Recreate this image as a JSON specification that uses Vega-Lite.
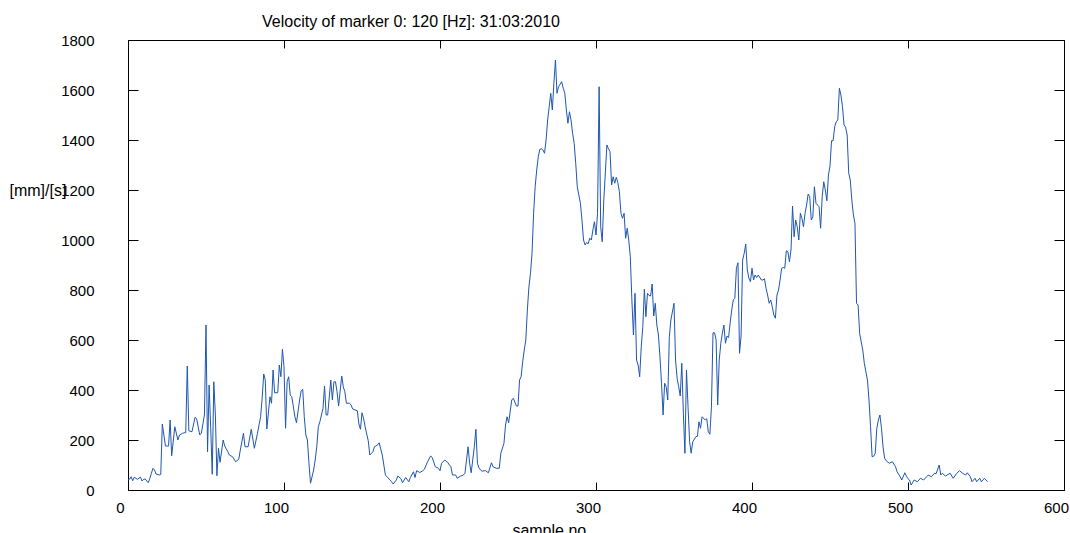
{
 "$schema": "https://vega.github.io/schema/vega-lite/v6.json",
 "width": 936,
 "height": 450,
 "autosize": {"type": "none"},
 "padding": {"left": 128, "top": 40, "right": 6, "bottom": 43},
 "background": "white",
 "config": {
  "view": {"stroke": null},
  "font": "Liberation Sans",
  "axis": {
   "grid": false,
   "domainColor": "black",
   "labelColor": "black",
   "titleColor": "black",
   "labelFont": "Liberation Sans",
   "titleFont": "Liberation Sans",
   "labelFontSize": 15,
   "titleFontSize": 16,
   "titleFontWeight": "normal",
   "domainWidth": 1,
   "labelFlush": false,
   "labelOverlap": false,
   "format": "d"
  }
 },
 "title": {
  "text": "Velocity of marker 0: 120 [Hz]: 31:03:2010",
  "anchor": "start",
  "frame": "group",
  "dx": 134,
  "offset": -10,
  "baseline": "alphabetic",
  "fontSize": 16,
  "fontWeight": "normal",
  "font": "Liberation Sans",
  "color": "black"
 },
 "data": {"values": [
  {"s":0,"v":40},{"s":1,"v":43},{"s":2,"v":53},{"s":3,"v":37},{"s":4,"v":51},{"s":6,"v":43},{"s":8,"v":51},{"s":9,"v":36},{"s":10,"v":43},{"s":11,"v":44},{"s":13,"v":29},{"s":14,"v":47},{"s":15,"v":67},{"s":16,"v":87},{"s":17,"v":80},{"s":18,"v":64},{"s":20,"v":60},{"s":21,"v":62},
  {"s":22,"v":264},{"s":24,"v":176},{"s":26,"v":176},{"s":27,"v":280},{"s":28,"v":137},{"s":30,"v":253},{"s":32,"v":200},{"s":33,"v":220},{"s":35,"v":227},{"s":37,"v":230},{"s":38,"v":496},{"s":39,"v":237},{"s":41,"v":233},{"s":43,"v":291},{"s":44,"v":285},{"s":46,"v":220},{"s":47,"v":227},{"s":49,"v":300},{"s":50,"v":660},{"s":51,"v":153},{"s":52,"v":420},{"s":53,"v":250},{"s":54,"v":63},{"s":55,"v":433},{"s":56,"v":300},{"s":57,"v":57},{"s":58,"v":167},{"s":59,"v":111},{"s":61,"v":200},{"s":62,"v":176},{"s":64,"v":153},{"s":65,"v":140},{"s":67,"v":133},{"s":69,"v":113},{"s":71,"v":123},{"s":72,"v":160},{"s":74,"v":227},{"s":75,"v":173},{"s":77,"v":173},{"s":79,"v":243},{"s":81,"v":167},{"s":83,"v":227},{"s":85,"v":293},{"s":86,"v":367},{"s":87,"v":464},{"s":88,"v":440},{"s":89,"v":244},{"s":91,"v":373},{"s":92,"v":347},{"s":93,"v":480},{"s":94,"v":389},{"s":96,"v":389},{"s":97,"v":500},{"s":98,"v":453},{"s":99,"v":563},{"s":100,"v":493},{"s":101,"v":247},{"s":102,"v":433},{"s":103,"v":453},{"s":104,"v":380},
  {"s":105,"v":373},{"s":107,"v":293},{"s":108,"v":269},{"s":110,"v":360},{"s":111,"v":397},{"s":112,"v":403},{"s":113,"v":293},{"s":114,"v":220},{"s":115,"v":200},{"s":116,"v":107},{"s":117,"v":27},{"s":119,"v":80},{"s":120,"v":120},{"s":121,"v":173},{"s":122,"v":253},{"s":123,"v":273},{"s":125,"v":327},{"s":126,"v":416},{"s":127,"v":300},{"s":128,"v":300},{"s":130,"v":440},{"s":131,"v":360},{"s":132,"v":433},{"s":133,"v":433},{"s":134,"v":393},{"s":135,"v":336},{"s":137,"v":456},{"s":138,"v":413},{"s":139,"v":393},{"s":140,"v":347},{"s":142,"v":347},{"s":143,"v":340},{"s":144,"v":324},{"s":147,"v":317},{"s":148,"v":264},{"s":149,"v":243},{"s":150,"v":309},{"s":151,"v":287},{"s":152,"v":253},{"s":154,"v":197},{"s":155,"v":140},{"s":157,"v":153},{"s":158,"v":173},{"s":160,"v":180},{"s":161,"v":189},{"s":163,"v":140},{"s":164,"v":100},{"s":165,"v":60},{"s":166,"v":53},{"s":168,"v":40},{"s":169,"v":33},{"s":170,"v":24},{"s":172,"v":40},{"s":173,"v":56},{"s":175,"v":45},{"s":176,"v":29},{"s":178,"v":50},{"s":180,"v":33},{"s":181,"v":50},{"s":183,"v":73},{"s":184,"v":50},{"s":185,"v":77},{"s":187,"v":70},{"s":189,"v":77},{"s":190,"v":83},{"s":192,"v":113},{"s":194,"v":136},{"s":195,"v":130},{"s":197,"v":93},{"s":199,"v":87},{"s":200,"v":77},
  {"s":201,"v":107},{"s":203,"v":120},{"s":205,"v":110},{"s":206,"v":100},{"s":207,"v":93},{"s":208,"v":60},{"s":210,"v":60},{"s":211,"v":47},{"s":213,"v":55},{"s":215,"v":60},{"s":216,"v":67},{"s":218,"v":173},{"s":219,"v":107},{"s":220,"v":69},{"s":222,"v":173},{"s":223,"v":243},{"s":224,"v":107},{"s":225,"v":87},{"s":227,"v":75},{"s":229,"v":78},{"s":231,"v":69},{"s":233,"v":109},{"s":234,"v":93},{"s":236,"v":87},{"s":238,"v":87},{"s":239,"v":147},{"s":241,"v":187},{"s":242,"v":260},{"s":243,"v":293},{"s":244,"v":269},{"s":246,"v":360},{"s":247,"v":367},{"s":249,"v":336},{"s":250,"v":336},{"s":251,"v":440},{"s":252,"v":453},{"s":253,"v":513},{"s":254,"v":560},{"s":255,"v":600},{"s":256,"v":720},{"s":257,"v":813},{"s":258,"v":867},{"s":259,"v":947},{"s":260,"v":1107},{"s":261,"v":1213},{"s":262,"v":1280},{"s":263,"v":1333},{"s":264,"v":1363},{"s":265,"v":1365},{"s":266,"v":1360},{"s":267,"v":1347},{"s":268,"v":1400},{"s":269,"v":1480},{"s":270,"v":1533},{"s":271,"v":1587},{"s":272,"v":1520},{"s":273,"v":1627},{"s":274,"v":1720},{"s":275,"v":1587},{"s":276,"v":1613},{"s":278,"v":1633},{"s":279,"v":1607},{"s":280,"v":1587},{"s":281,"v":1520},{"s":282,"v":1467},{"s":283,"v":1513},{"s":284,"v":1480},{"s":285,"v":1427},{"s":286,"v":1387},{"s":287,"v":1307},{"s":288,"v":1213},{"s":290,"v":1147},{"s":291,"v":1080},{"s":292,"v":1000},{"s":293,"v":980},{"s":294,"v":990},{"s":295,"v":985},{"s":296,"v":1007},{"s":297,"v":1000},{"s":298,"v":1040},{"s":299,"v":1073},{"s":300,"v":1020},{"s":301,"v":1107},{"s":302,"v":1613},{"s":303,"v":1053},{"s":304,"v":993},{"s":305,"v":1160},{"s":307,"v":1380},{"s":308,"v":1365},{"s":309,"v":1353},{"s":310,"v":1220},{"s":311,"v":1253},{"s":312,"v":1227},{"s":313,"v":1251},{"s":314,"v":1230},{"s":315,"v":1193},{"s":316,"v":1107},{"s":317,"v":1087},{"s":318,"v":1107},{"s":319,"v":1007},{"s":320,"v":1047},{"s":321,"v":1000},{"s":322,"v":933},{"s":323,"v":760},{"s":324,"v":620},{"s":325,"v":787},{"s":326,"v":520},{"s":327,"v":500},{"s":328,"v":453},{"s":329,"v":573},{"s":330,"v":653},{"s":331,"v":803},{"s":332,"v":693},{"s":333,"v":787},{"s":334,"v":778},{"s":335,"v":776},{"s":336,"v":824},{"s":337,"v":696},{"s":338,"v":747},{"s":339,"v":660},{"s":340,"v":620},{"s":341,"v":533},{"s":342,"v":427},{"s":343,"v":300},{"s":344,"v":427},{"s":345,"v":413},{"s":346,"v":360},{"s":347,"v":613},{"s":348,"v":680},{"s":350,"v":747},{"s":351,"v":520},{"s":352,"v":447},{"s":353,"v":413},{"s":354,"v":376},{"s":355,"v":507},{"s":356,"v":307},{"s":357,"v":147},{"s":358,"v":480},{"s":359,"v":333},{"s":360,"v":193},{"s":361,"v":147},{"s":362,"v":193},{"s":364,"v":213},{"s":365,"v":215},{"s":366,"v":273},{"s":367,"v":247},{"s":368,"v":293},{"s":370,"v":280},{"s":371,"v":285},{"s":372,"v":233},{"s":373,"v":223},{"s":374,"v":333},{"s":375,"v":629},{"s":376,"v":629},{"s":377,"v":600},{"s":378,"v":340},{"s":379,"v":520},{"s":380,"v":587},{"s":381,"v":627},{"s":382,"v":660},{"s":383,"v":587},{"s":384,"v":616},{"s":385,"v":610},{"s":386,"v":669},{"s":387,"v":720},{"s":388,"v":760},{"s":389,"v":767},{"s":390,"v":887},{"s":391,"v":909},{"s":392,"v":547},{"s":393,"v":616},{"s":394,"v":920},{"s":395,"v":947},{"s":396,"v":984},{"s":397,"v":880},{"s":398,"v":847},{"s":399,"v":833},{"s":400,"v":887},{"s":401,"v":840},{"s":402,"v":860},{"s":403,"v":850},{"s":404,"v":860},{"s":406,"v":840},{"s":407,"v":840},{"s":408,"v":845},{"s":409,"v":807},{"s":410,"v":780},{"s":411,"v":747},{"s":412,"v":760},{"s":413,"v":733},{"s":414,"v":700},{"s":415,"v":687},{"s":416,"v":780},{"s":417,"v":800},{"s":418,"v":840},{"s":419,"v":887},{"s":420,"v":890},{"s":421,"v":887},{"s":422,"v":957},{"s":423,"v":953},{"s":424,"v":913},{"s":425,"v":960},{"s":426,"v":1136},{"s":427,"v":1013},{"s":428,"v":1080},{"s":429,"v":1053},{"s":430,"v":1000},{"s":431,"v":1107},{"s":432,"v":1087},{"s":433,"v":1053},{"s":434,"v":1107},{"s":435,"v":1140},{"s":436,"v":1184},{"s":437,"v":1173},{"s":438,"v":1080},{"s":439,"v":1093},{"s":440,"v":1213},{"s":441,"v":1147},{"s":442,"v":1140},{"s":443,"v":1133},{"s":444,"v":1047},{"s":445,"v":1173},{"s":446,"v":1233},{"s":447,"v":1200},{"s":448,"v":1157},{"s":449,"v":1260},{"s":450,"v":1296},{"s":451,"v":1397},{"s":452,"v":1397},{"s":453,"v":1453},{"s":454,"v":1473},{"s":455,"v":1480},{"s":456,"v":1607},{"s":457,"v":1580},{"s":458,"v":1533},{"s":459,"v":1460},{"s":460,"v":1451},{"s":461,"v":1420},{"s":462,"v":1267},{"s":463,"v":1240},{"s":464,"v":1160},{"s":465,"v":1100},{"s":466,"v":1067},{"s":467,"v":747},{"s":468,"v":740},{"s":469,"v":627},{"s":470,"v":593},{"s":471,"v":560},{"s":472,"v":507},{"s":473,"v":473},{"s":474,"v":440},{"s":475,"v":360},{"s":476,"v":253},{"s":477,"v":133},{"s":478,"v":135},{"s":479,"v":147},{"s":480,"v":247},{"s":481,"v":280},{"s":482,"v":300},{"s":483,"v":247},{"s":484,"v":173},{"s":485,"v":127},{"s":486,"v":117},{"s":488,"v":107},{"s":490,"v":113},{"s":492,"v":93},{"s":493,"v":73},{"s":495,"v":53},{"s":496,"v":40},{"s":498,"v":69},{"s":499,"v":55},{"s":500,"v":45},{"s":501,"v":40},{"s":502,"v":20},{"s":504,"v":40},{"s":506,"v":33},{"s":508,"v":47},{"s":510,"v":40},{"s":513,"v":60},{"s":515,"v":53},{"s":517,"v":67},{"s":518,"v":65},{"s":520,"v":100},{"s":521,"v":60},{"s":522,"v":67},{"s":524,"v":56},{"s":527,"v":67},{"s":529,"v":47},{"s":531,"v":65},{"s":533,"v":77},{"s":535,"v":67},{"s":537,"v":60},{"s":538,"v":69},{"s":540,"v":53},{"s":541,"v":33},{"s":543,"v":47},{"s":544,"v":33},{"s":546,"v":47},{"s":547,"v":33},{"s":549,"v":47},{"s":551,"v":33}
 ]},
 "layer": [
  {
   "mark": {"type": "line", "color": "#1f56b0", "strokeWidth": 1},
   "encoding": {
    "x": {"field": "s", "type": "quantitative",
     "scale": {"domain": [0, 600], "nice": false, "zero": false},
     "axis": {"orient": "bottom", "values": [0, 100, 200, 300, 400, 500, 600], "title": "sample no.",
      "ticks": true, "tickSize": -8, "tickColor": "#000000", "labelPadding": 18,
      "labelOffset": -8,
      "titleX": 423, "titleY": 45, "titleAlign": "center", "titleBaseline": "alphabetic"}},
    "y": {"field": "v", "type": "quantitative",
     "scale": {"domain": [0, 1800], "nice": false, "zero": false},
     "axis": {"orient": "left", "values": [0, 200, 400, 600, 800, 1000, 1200, 1400, 1600, 1800], "title": "[mm]/[s]",
      "ticks": true, "tickSize": -10, "tickColor": "#000000", "labelPadding": 44,
      "titleAngle": 0, "titleX": -119, "titleY": 150, "titleAlign": "left", "titleBaseline": "middle"}}
   }
  },
  {
   "mark": {"type": "line", "opacity": 0},
   "encoding": {
    "x": {"field": "s", "type": "quantitative",
     "axis": {"orient": "top", "values": [0, 100, 200, 300, 400, 500, 600], "labels": false, "ticks": true, "tickSize": -8, "tickColor": "#000000", "title": null}},
    "y": {"field": "v", "type": "quantitative",
     "axis": {"orient": "right", "values": [0, 200, 400, 600, 800, 1000, 1200, 1400, 1600, 1800], "labels": false, "ticks": true, "tickSize": -10, "tickColor": "#000000", "title": null}}
   }
  }
 ],
 "resolve": {"axis": {"x": "independent", "y": "independent"}}
}
